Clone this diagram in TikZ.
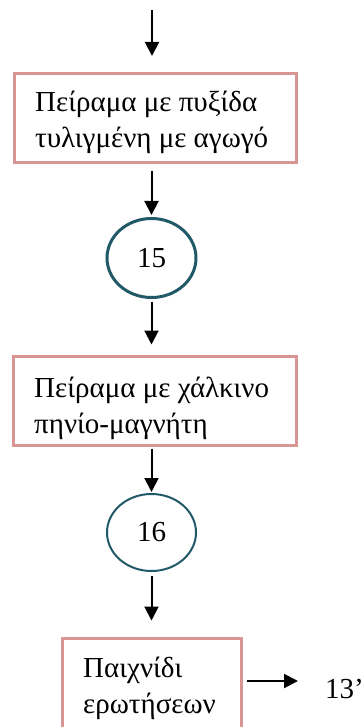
\documentclass[tikz,border=0pt]{standalone}
\usepackage{fontspec}
\setmainfont{Liberation Serif}
\usetikzlibrary{arrows.meta,shapes.geometric}
\definecolor{boxc}{HTML}{D99594}
\definecolor{circc}{HTML}{215968}
\begin{document}
\begin{tikzpicture}[x=1pt,y=-1pt,
  box/.style={draw=boxc,line width=3pt,rectangle,inner sep=0pt},
  oval/.style={draw=circc,ellipse,inner sep=0pt,font=\fontsize{29}{36}\selectfont},
  txt/.style={font=\fontsize{29}{36}\selectfont,align=left,anchor=base west,inner sep=0pt},
  arr/.style={line width=2pt,-{Triangle[length=14pt,width=14pt]}}]
\useasboundingbox (0,0) rectangle (360,727);
\clip (0,0) rectangle (360,727);
\node[box,minimum width=282pt,minimum height=89pt] (b1) at (155.5,118) {};
\node[txt] (t1) at (35,148) {Πείραμα με πυξίδα\\τυλιγμένη με αγωγό};
\node[oval,line width=3pt,minimum width=89pt,minimum height=79pt] (c1) at (151.5,258) {15};
\node[box,minimum width=283pt,minimum height=89pt] (b2) at (155,401) {};
\node[txt] (t2) at (34,433) {Πείραμα με χάλκινο\\πηνίο-μαγνήτη};
\node[oval,line width=2pt,minimum width=89pt,minimum height=77pt] (c2) at (151.5,532.5) {16};
\node[box,minimum width=179pt,minimum height=95pt] (b3) at (152,686) {};
\node[txt] (t3) at (83,713) {Παιχνίδι\\ερωτήσεων};
\node[txt] (t4) at (325,698) {13’};
\coordinate (s) at (152,10);
\coordinate (e) at (298,681);
\draw[arr,shorten >=16pt] (s) -- (s |- b1.north);
\draw[arr,shorten <=7.5pt,shorten >=2pt] (c1.north |- b1.south) -- (c1.north);
\draw[arr,shorten <=2.5pt,shorten >=10.5pt] (c1.south) -- (c1.south |- b2.north);
\draw[arr,shorten <=1.5pt,shorten >=1pt] (c2.north |- b2.south) -- (c2.north);
\draw[arr,shorten <=4pt,shorten >=16.5pt] (c2.south) -- (c2.south |- b3.north);
\draw[arr,shorten <=3.5pt] (b3.east |- e) -- (e);
\end{tikzpicture}
\end{document}
